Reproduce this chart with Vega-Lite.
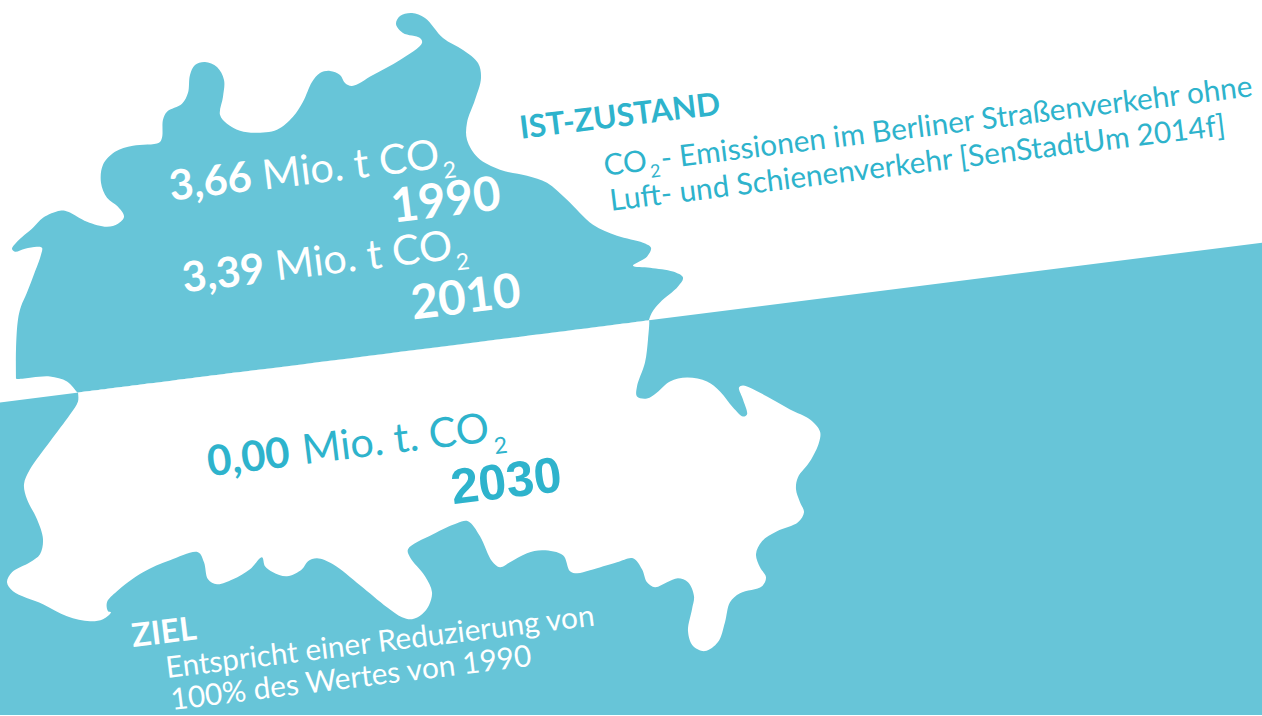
{"$schema":"https://vega.github.io/schema/vega-lite/v6.json","width":1262,"height":716,"padding":0,"autosize":{"type":"fit","contains":"padding"},"background":"#ffffff","view":{"stroke":null},
"encoding":{"x":{"field":"x","type":"quantitative","axis":null,"scale":{"domain":[0,1262],"nice":false,"zero":false}},"y":{"field":"y","type":"quantitative","axis":null,"scale":{"domain":[716,0],"nice":false,"zero":false}}},
"layer":[
{"data":{"values":[{"i":0,"x":0,"y":403},{"i":1,"x":1262,"y":243},{"i":2,"x":1262,"y":716},{"i":3,"x":0,"y":716}]},"mark":{"type":"line","fill":"#67C5D8","stroke":null,"filled":true,"interpolate":"linear"},"encoding":{"order":{"field":"i"}}},
{"data":{"values":[{"i":0,"x":16,"y":379},{"i":1,"x":16,"y":350},{"i":2,"x":18,"y":320},{"i":3,"x":21,"y":307},{"i":4,"x":27,"y":293},{"i":5,"x":35,"y":272},{"i":6,"x":41,"y":255},{"i":7,"x":42,"y":248},{"i":8,"x":37,"y":247},{"i":9,"x":25,"y":249},{"i":10,"x":15,"y":252},{"i":11,"x":12,"y":249},{"i":12,"x":17,"y":242},{"i":13,"x":33,"y":228},{"i":14,"x":43,"y":218},{"i":15,"x":60,"y":211},{"i":16,"x":68,"y":212},{"i":17,"x":87,"y":222},{"i":18,"x":107,"y":227},{"i":19,"x":118,"y":224},{"i":20,"x":124,"y":217},{"i":21,"x":118,"y":207},{"i":22,"x":107,"y":198},{"i":23,"x":101,"y":183},{"i":24,"x":103,"y":165},{"i":25,"x":115,"y":152},{"i":26,"x":133,"y":146},{"i":27,"x":159,"y":143},{"i":28,"x":162,"y":138},{"i":29,"x":163,"y":120},{"i":30,"x":167,"y":112},{"i":31,"x":182,"y":104},{"i":32,"x":188,"y":93},{"i":33,"x":190,"y":75},{"i":34,"x":195,"y":65},{"i":35,"x":205,"y":62},{"i":36,"x":217,"y":67},{"i":37,"x":224,"y":80},{"i":38,"x":223,"y":97},{"i":39,"x":220,"y":115},{"i":40,"x":227,"y":124},{"i":41,"x":240,"y":131},{"i":42,"x":255,"y":133},{"i":43,"x":277,"y":130},{"i":44,"x":293,"y":117},{"i":45,"x":303,"y":102},{"i":46,"x":312,"y":82},{"i":47,"x":320,"y":73},{"i":48,"x":330,"y":71},{"i":49,"x":340,"y":75},{"i":50,"x":345,"y":83},{"i":51,"x":352,"y":86},{"i":52,"x":373,"y":75},{"i":53,"x":400,"y":60},{"i":54,"x":422,"y":43},{"i":55,"x":420,"y":38},{"i":56,"x":403,"y":33},{"i":57,"x":396,"y":24},{"i":58,"x":400,"y":16},{"i":59,"x":412,"y":13},{"i":60,"x":425,"y":18},{"i":61,"x":443,"y":38},{"i":62,"x":463,"y":50},{"i":63,"x":478,"y":63},{"i":64,"x":481,"y":78},{"i":65,"x":475,"y":100},{"i":66,"x":467,"y":123},{"i":67,"x":467,"y":140},{"i":68,"x":478,"y":158},{"i":69,"x":500,"y":170},{"i":70,"x":527,"y":176},{"i":71,"x":547,"y":183},{"i":72,"x":567,"y":200},{"i":73,"x":593,"y":225},{"i":74,"x":617,"y":236},{"i":75,"x":643,"y":243},{"i":76,"x":651,"y":248},{"i":77,"x":647,"y":257},{"i":78,"x":633,"y":266},{"i":79,"x":650,"y":268},{"i":80,"x":673,"y":272},{"i":81,"x":683,"y":278},{"i":82,"x":678,"y":287},{"i":83,"x":660,"y":303},{"i":84,"x":652,"y":313},{"i":85,"x":649,"y":320.5},{"i":86,"x":649,"y":320.7},{"i":87,"x":640,"y":321.9},{"i":88,"x":90,"y":391.6},{"i":89,"x":78,"y":393.1},{"i":90,"x":77.6,"y":393.1},{"i":91,"x":67,"y":382},{"i":92,"x":50,"y":377},{"i":93,"x":32,"y":378},{"i":94,"x":17,"y":379.5},{"i":95,"x":16,"y":379}]},"mark":{"type":"line","fill":"#67C5D8","stroke":null,"filled":true,"interpolate":"catmull-rom"},"encoding":{"order":{"field":"i"}}},
{"data":{"values":[{"i":0,"x":78,"y":393.1},{"i":1,"x":90,"y":391.6},{"i":2,"x":640,"y":321.9},{"i":3,"x":648.5,"y":320.8},{"i":4,"x":649,"y":320.7},{"i":5,"x":648,"y":340},{"i":6,"x":645,"y":363},{"i":7,"x":637,"y":387},{"i":8,"x":637,"y":397},{"i":9,"x":647,"y":399},{"i":10,"x":657,"y":393},{"i":11,"x":670,"y":382},{"i":12,"x":687,"y":378},{"i":13,"x":707,"y":382},{"i":14,"x":720,"y":392},{"i":15,"x":733,"y":408},{"i":16,"x":743,"y":417},{"i":17,"x":747,"y":415},{"i":18,"x":743,"y":400},{"i":19,"x":739,"y":388},{"i":20,"x":743,"y":386},{"i":21,"x":767,"y":397},{"i":22,"x":790,"y":410},{"i":23,"x":810,"y":420},{"i":24,"x":820,"y":432},{"i":25,"x":819,"y":443},{"i":26,"x":810,"y":462},{"i":27,"x":798,"y":478},{"i":28,"x":796,"y":490},{"i":29,"x":800,"y":503},{"i":30,"x":804,"y":513},{"i":31,"x":798,"y":523},{"i":32,"x":777,"y":532},{"i":33,"x":762,"y":542},{"i":34,"x":756,"y":555},{"i":35,"x":760,"y":568},{"i":36,"x":766,"y":578},{"i":37,"x":762,"y":587},{"i":38,"x":740,"y":594},{"i":39,"x":730,"y":603},{"i":40,"x":725,"y":623},{"i":41,"x":718,"y":643},{"i":42,"x":705,"y":652},{"i":43,"x":693,"y":647},{"i":44,"x":688,"y":632},{"i":45,"x":692,"y":610},{"i":46,"x":694,"y":597},{"i":47,"x":688,"y":583},{"i":48,"x":678,"y":579},{"i":49,"x":667,"y":583},{"i":50,"x":655,"y":588},{"i":51,"x":647,"y":583},{"i":52,"x":642,"y":570},{"i":53,"x":633,"y":559},{"i":54,"x":617,"y":563},{"i":55,"x":590,"y":571},{"i":56,"x":577,"y":574},{"i":57,"x":570,"y":572},{"i":58,"x":563,"y":556},{"i":59,"x":543,"y":551},{"i":60,"x":527,"y":554},{"i":61,"x":510,"y":563},{"i":62,"x":500,"y":568},{"i":63,"x":492,"y":562},{"i":64,"x":480,"y":537},{"i":65,"x":468,"y":522},{"i":66,"x":457,"y":524},{"i":67,"x":433,"y":535},{"i":68,"x":408,"y":550},{"i":69,"x":410,"y":558},{"i":70,"x":425,"y":577},{"i":71,"x":432,"y":593},{"i":72,"x":429,"y":606},{"i":73,"x":422,"y":615},{"i":74,"x":412,"y":620},{"i":75,"x":402,"y":618},{"i":76,"x":387,"y":608},{"i":77,"x":360,"y":586},{"i":78,"x":333,"y":565},{"i":79,"x":317,"y":559},{"i":80,"x":308,"y":562},{"i":81,"x":302,"y":570},{"i":82,"x":287,"y":577},{"i":83,"x":273,"y":573},{"i":84,"x":265,"y":567},{"i":85,"x":262,"y":558},{"i":86,"x":250,"y":570},{"i":87,"x":233,"y":580},{"i":88,"x":217,"y":585},{"i":89,"x":208,"y":580},{"i":90,"x":204,"y":563},{"i":91,"x":198,"y":553},{"i":92,"x":170,"y":561},{"i":93,"x":143,"y":573},{"i":94,"x":117,"y":592},{"i":95,"x":107,"y":603},{"i":96,"x":108,"y":612},{"i":97,"x":111,"y":613},{"i":98,"x":103,"y":620},{"i":99,"x":90,"y":622},{"i":100,"x":67,"y":617},{"i":101,"x":43,"y":605},{"i":102,"x":13,"y":592},{"i":103,"x":7,"y":583},{"i":104,"x":12,"y":573},{"i":105,"x":30,"y":563},{"i":106,"x":40,"y":555},{"i":107,"x":43,"y":540},{"i":108,"x":37,"y":520},{"i":109,"x":27,"y":500},{"i":110,"x":24,"y":485},{"i":111,"x":30,"y":470},{"i":112,"x":50,"y":442},{"i":113,"x":70,"y":415},{"i":114,"x":78,"y":402},{"i":115,"x":78,"y":393.1}]},"mark":{"type":"line","fill":"#ffffff","stroke":null,"filled":true,"interpolate":"catmull-rom"},"encoding":{"order":{"field":"i"}}},
{"data":{"values":[{"t":"3,66","x":171,"y":201},{"t":"3,39","x":184,"y":293}]},"mark":{"type":"text","align":"left","baseline":"alphabetic","angle":353,"font":"Lato","fontWeight":"bold","fontSize":42,"fill":"#ffffff"},"encoding":{"text":{"field":"t"}}},
{"data":{"values":[{"t":"Mio. t CO","x":264,"y":190},{"t":"Mio. t CO","x":277,"y":281}]},"mark":{"type":"text","align":"left","baseline":"alphabetic","angle":353,"font":"Lato","fontWeight":400,"fontSize":41.5,"fill":"#ffffff"},"encoding":{"text":{"field":"t"}}},
{"data":{"values":[{"t":"2","x":444,"y":179},{"t":"2","x":457,"y":271}]},"mark":{"type":"text","align":"left","baseline":"alphabetic","angle":353,"font":"Lato","fontWeight":400,"fontSize":23,"fill":"#ffffff"},"encoding":{"text":{"field":"t"}}},
{"data":{"values":[{"t":"1990","x":393,"y":223},{"t":"2010","x":413,"y":320}]},"mark":{"type":"text","align":"left","baseline":"alphabetic","angle":353,"font":"Lato","fontWeight":"bold","fontSize":47.5,"fill":"#ffffff"},"encoding":{"text":{"field":"t"}}},
{"data":{"values":[{"t":"0,00","x":209,"y":477}]},"mark":{"type":"text","align":"left","baseline":"alphabetic","angle":353,"font":"Lato","fontWeight":"bold","fontSize":42,"fill":"#2EB3CC"},"encoding":{"text":{"field":"t"}}},
{"data":{"values":[{"t":"Mio. t. CO","x":304,"y":465}]},"mark":{"type":"text","align":"left","baseline":"alphabetic","angle":353,"font":"Lato","fontWeight":400,"fontSize":41.5,"fill":"#2EB3CC"},"encoding":{"text":{"field":"t"}}},
{"data":{"values":[{"t":"2","x":495,"y":455}]},"mark":{"type":"text","align":"left","baseline":"alphabetic","angle":353,"font":"Lato","fontWeight":400,"fontSize":23,"fill":"#2EB3CC"},"encoding":{"text":{"field":"t"}}},
{"data":{"values":[{"t":"2030","x":453,"y":505}]},"mark":{"type":"text","align":"left","baseline":"alphabetic","angle":353,"font":"Liberation Sans","fontWeight":"bold","fontSize":50,"fill":"#2EB3CC"},"encoding":{"text":{"field":"t"}}},
{"data":{"values":[{"t":"IST-ZUSTAND","x":521,"y":139}]},"mark":{"type":"text","align":"left","baseline":"alphabetic","angle":353,"font":"Lato","fontWeight":"bold","fontSize":31.5,"fill":"#2EB3CC"},"encoding":{"text":{"field":"t"}}},
{"data":{"values":[{"t":"CO","x":605,"y":176},{"t":"- Emissionen im Berliner Straßenverkehr ohne","x":662,"y":169},{"t":"Luft- und Schienenverkehr [SenStadtUm 2014f]","x":611,"y":211}]},"mark":{"type":"text","align":"left","baseline":"alphabetic","angle":353,"font":"Lato","fontWeight":400,"fontSize":29.8,"fill":"#2EB3CC"},"encoding":{"text":{"field":"t"}}},
{"data":{"values":[{"t":"2","x":651,"y":178}]},"mark":{"type":"text","align":"left","baseline":"alphabetic","angle":353,"font":"Lato","fontWeight":400,"fontSize":18,"fill":"#2EB3CC"},"encoding":{"text":{"field":"t"}}},
{"data":{"values":[{"t":"ZIEL","x":133,"y":648}]},"mark":{"type":"text","align":"left","baseline":"alphabetic","angle":353,"font":"Lato","fontWeight":"bold","fontSize":32.5,"fill":"#ffffff"},"encoding":{"text":{"field":"t"}}},
{"data":{"values":[{"t":"Entspricht einer Reduzierung von","x":167,"y":679},{"t":"100% des Wertes von 1990","x":172,"y":711}]},"mark":{"type":"text","align":"left","baseline":"alphabetic","angle":353,"font":"Lato","fontWeight":400,"fontSize":29.8,"fill":"#ffffff"},"encoding":{"text":{"field":"t"}}}
]}
